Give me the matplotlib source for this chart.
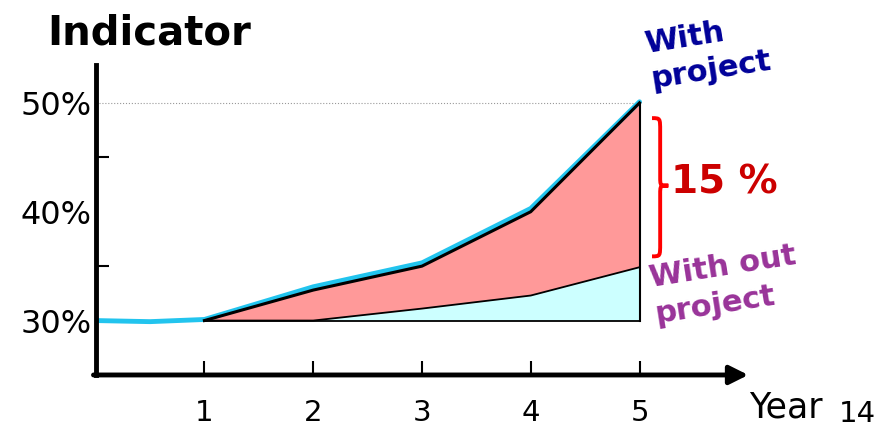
import matplotlib
matplotlib.use("Agg")
import matplotlib.pyplot as plt
from matplotlib.path import Path
import matplotlib.patches as mpatches

# ── Data ─────────────────────────────────────────────────────────────────────
years = [1, 2, 3, 4, 5]
with_project = [30.0, 32.8, 35.0, 40.0, 50.0]
without_project = [30.0, 30.0, 31.1, 32.3, 34.9]

# smoothed (cyan) trace of the "with project" path, starting at year 0
trend_x = [0, 0.5, 1, 2, 3, 4, 5]
trend_y = [30.0, 29.9, 30.1, 33.1, 35.3, 40.3, 50.1]

y_ticks = [30, 40, 50]
y_labels = ["30%", "40%", "50%"]
y_minor = [35, 45]
gap_label = "15 %"

# ── Figure ───────────────────────────────────────────────────────────────────
fig = plt.figure(figsize=(8.94, 4.32), dpi=100)
ax = fig.add_axes([0.107, 0.132, 0.730, 0.718])
ax.set_xlim(0, 6)
ax.set_ylim(25, 53.5)

# filled areas
ax.fill_between(years, without_project, with_project, color="#ff9999", lw=0, zorder=1)
ax.fill_between(years, [30] * len(years), without_project, color="#ccffff", lw=0, zorder=1)

# lines
ax.plot(trend_x, trend_y, color="#22c4ee", lw=3.5, solid_capstyle="round", zorder=2)
ax.plot(years, with_project, color="black", lw=2.2, zorder=3)
ax.plot(years, without_project, color="black", lw=1.3, zorder=3)
ax.plot([years[0], years[-1]], [30, 30], color="black", lw=1.3, zorder=3)
ax.plot([years[-1], years[-1]], [30, with_project[-1]], color="black", lw=1.5, zorder=3)
ax.plot([0, years[-1]], [50, 50], color="#999999", lw=0.8, ls=":", zorder=0)

# axes styling
for s in ["top", "right", "bottom"]:
    ax.spines[s].set_visible(False)
ax.spines["left"].set_linewidth(3.5)
ax.annotate("", xy=(6, 25), xytext=(-0.02, 25), xycoords="data",
            arrowprops=dict(arrowstyle="-|>", lw=3.5, color="black",
                            mutation_scale=28, shrinkA=0, shrinkB=0),
            annotation_clip=False)

ax.set_xticks(years)
ax.set_xticklabels([str(y) for y in years], fontsize=21)
ax.tick_params(axis="x", direction="in", length=10, width=1.5, pad=17)
ax.set_yticks(y_ticks)
ax.set_yticklabels(y_labels, fontsize=23)
ax.set_yticks(y_minor, minor=True)
ax.tick_params(axis="y", which="major", length=0, pad=3)
ax.tick_params(axis="y", which="minor", direction="in", length=9, width=1.5)

# curly brace marking the gap
bx0, bxv, bxt = 5.115, 5.19, 5.265
byt, bym, byb = 48.6, 42.4, 35.9
verts = [(bx0, byt), (bxv, byt), (bxv, byt), (bxv, byt - 1.2),
         (bxv, bym + 0.8),
         (bxv, bym), (bxv, bym), (bxt, bym),
         (bxv, bym), (bxv, bym), (bxv, bym - 0.8),
         (bxv, byb + 1.2),
         (bxv, byb), (bxv, byb), (bx0, byb)]
codes = [Path.MOVETO, Path.CURVE4, Path.CURVE4, Path.CURVE4,
         Path.LINETO,
         Path.CURVE4, Path.CURVE4, Path.CURVE4,
         Path.CURVE4, Path.CURVE4, Path.CURVE4,
         Path.LINETO,
         Path.CURVE4, Path.CURVE4, Path.CURVE4]
ax.add_patch(mpatches.PathPatch(Path(verts, codes), fc="none", ec="red", lw=2.8,
                                clip_on=False, zorder=4))

# texts
fig.text(0.167, 0.922, "Indicator", fontsize=29, fontweight="bold", ha="center", va="center")
fig.text(0.792, 0.878, "With\nproject", fontsize=22, fontweight="bold", color="#000099",
         ha="center", va="center", rotation=9, linespacing=1.3, multialignment="left")
fig.text(0.810, 0.577, gap_label, fontsize=28, fontweight="bold", color="#cc0000",
         ha="center", va="center")
fig.text(0.812, 0.340, "With out\nproject", fontsize=22, fontweight="bold", color="#993399",
         ha="center", va="center", rotation=9, linespacing=1.3, multialignment="left")
fig.text(0.838, 0.057, "Year", fontsize=25, ha="left", va="center")
fig.text(0.938, 0.042, "14", fontsize=21, ha="left", va="center")

fig.savefig("out.png", dpi=100)
